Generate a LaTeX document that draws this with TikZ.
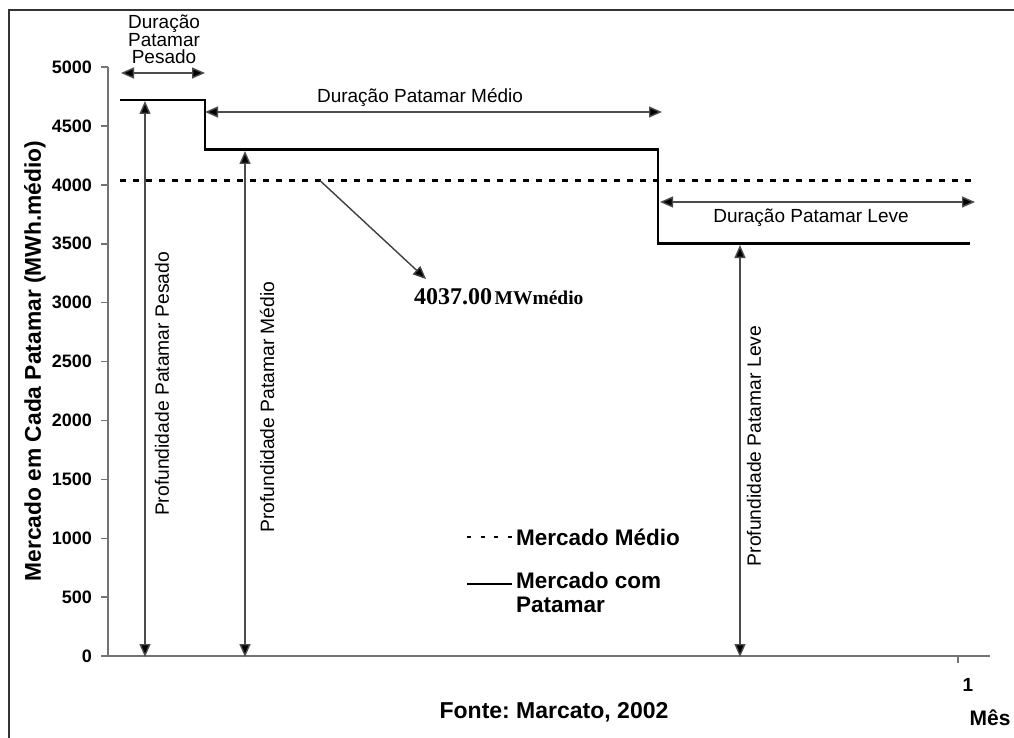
\documentclass[tikz,border=0pt]{standalone}
\usepackage{fontspec}
\setmainfont{Liberation Sans}
\newfontfamily\timesfont{Liberation Serif}
\usetikzlibrary{arrows.meta}
\frenchspacing

\begin{document}
\begin{tikzpicture}[x=1pt,y=-1pt,
  frame/.style={draw=black!80,line width=2pt},
  axisline/.style={draw=black!55,line width=1.8pt},
  ticklbl/.style={anchor=east,inner sep=0pt,font=\fontsize{18}{18}\selectfont\bfseries},
  level/.style={draw=black,line width=2.8pt,line join=miter},
  meanline/.style={draw=black,line width=2.2pt,dash pattern=on 6pt off 7pt},
  span/.style={draw=black!70,line width=1.4pt,{Triangle[length=13pt,width=11pt,fill=black]}-{Triangle[length=13pt,width=11pt,fill=black]}},
  durlbl/.style={inner sep=0pt,font=\fontsize{19}{17}\selectfont},
  deplbl/.style={inner sep=0pt,rotate=90,font=\fontsize{19.3}{18}\selectfont},
  legendlbl/.style={anchor=west,inner sep=0pt,align=left,font=\fontsize{22.5}{24}\selectfont\bfseries}
]
\useasboundingbox (0,0) rectangle (1014,738);
\fill[white] (0,0) rectangle (1014,738);

% outer frame (left and top edges)
\draw[frame] (9,738) -- (9,10) -- (1014,10);

% axes
\coordinate (o) at (108,656);
\coordinate (ytop) at (108,67);
\coordinate (xend) at (990,656);
\draw[axisline] (ytop) -- (o) -- (xend);
\foreach \v [evaluate=\v as \yy using 656-\v*0.11776] in {0,500,...,5000}{
  \draw[axisline,line width=1.4pt] (101,\yy) -- (108,\yy);
  \node[ticklbl] (t\v) at (92,\yy) {\v};
}
\draw[axisline,line width=1.4pt] (958,656) -- (958,663);
\node[inner sep=0pt,font=\fontsize{19}{18}\selectfont\bfseries] (one) at (968,685) {1};
\node[inner sep=0pt,font=\fontsize{21}{20}\selectfont\bfseries] (mes) at (990,718) {Mês};

% axis title
\node[inner sep=0pt,rotate=90,font=\fontsize{22.8}{24}\selectfont\bfseries] (ytitle) at (35,361)
  {Mercado em Cada Patamar (MWh.médio)};

% load levels
\coordinate (p1) at (120,100);
\coordinate (p2) at (205,100);
\coordinate (p3) at (205,149.6);
\coordinate (p4) at (658,149.6);
\coordinate (p5) at (658,243.8);
\coordinate (p6) at (970,243.8);
\draw[level] (p1) -- (p2) -- (p3) -- (p4) -- (p5) -- (p6);

% mean market line
\coordinate (m1) at (120,180.6);
\coordinate (m2) at (975,180.6);
\draw[meanline] (m1) -- (m2);

% duration spans
\coordinate (dp1) at (121,73);  \coordinate (dp2) at (205,73);
\coordinate (dm1) at (205,112); \coordinate (dm2) at (662,112);
\coordinate (dl1) at (660,202); \coordinate (dl2) at (975,202);
\draw[span] (dp1) -- (dp2);
\draw[span] (dm1) -- (dm2);
\draw[span] (dl1) -- (dl2);
\node[durlbl,align=center] (lp) at (164,39) {Duração\\Patamar\\Pesado};
\node[durlbl] (lm) at (420,98) {Duração Patamar Médio};
\node[durlbl] (ll) at (811,218) {Duração Patamar Leve};

% depth spans
\coordinate (vp1) at (145,101); \coordinate (vp2) at (145,657);
\coordinate (vm1) at (245,151); \coordinate (vm2) at (245,657);
\coordinate (vl1) at (740,245); \coordinate (vl2) at (740,657);
\draw[span] (vp1) -- (vp2);
\draw[span] (vm1) -- (vm2);
\draw[span] (vl1) -- (vl2);
\node[deplbl] (fp) at (162,384) {Profundidade Patamar Pesado};
\node[deplbl] (fm) at (267,407) {Profundidade Patamar Médio};
\node[deplbl] (fl) at (754,446) {Profundidade Patamar Leve};

% mean value callout
\coordinate (c0) at (320,180.6);
\coordinate (c1) at (426,279);
\node[anchor=west,inner sep=0pt,font=\timesfont\fontsize{24}{24}\selectfont\bfseries] (val) at (414,297) {4037.00};
\node[anchor=base west,inner sep=0pt,font=\timesfont\fontsize{19.5}{20}\selectfont\bfseries] (unit) at ([xshift=2pt]val.base east) {MWmédio};
\draw[draw=black!75,line width=1.4pt,-{Triangle[length=13pt,width=11pt,fill=black]}] (c0) -- (c1);

% legend
\coordinate (la1) at (467,537); \coordinate (la2) at (512,537);
\coordinate (lb1) at (467,584); \coordinate (lb2) at (512,584);
\draw[draw=black,line width=2pt,dash pattern=on 4pt off 9.5pt] (la1) -- (la2);
\draw[draw=black,line width=2pt] (lb1) -- (lb2);
\node[legendlbl] (lg1) at (516,537) {Mercado Médio};
\node[legendlbl,anchor=north west] (lg2) at (516,572) {Mercado com\\Patamar};

% source
\node[inner sep=0pt,font=\fontsize{23}{24}\selectfont\bfseries] (src) at (554,712) {Fonte: Marcato, 2002};
\end{tikzpicture}
\end{document}
